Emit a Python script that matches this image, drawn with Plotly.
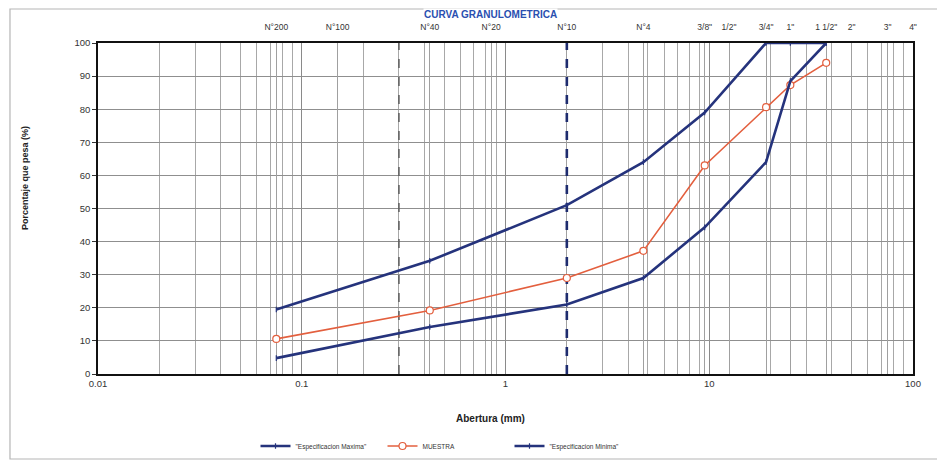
import plotly.graph_objects as go

# ---------------- data ----------------
sieve_labels = ['N°200', 'N°100', 'N°40', 'N°20', 'N°10', 'N°4', '3/8"', '1/2"',
                '3/4"', '1"', '1 1/2"', '2"', '3"', '4"']
sieve_mm = [0.075, 0.15, 0.425, 0.85, 2.0, 4.75, 9.5, 12.5, 19.0, 25.0, 37.5, 50.0, 75.0, 100.0]

abertura = [0.075, 0.425, 2.0, 4.75, 9.5, 19.0, 25.0, 37.5]
esp_max = [19.5, 34.2, 51.0, 64.0, 79.0, 100.0, 100.0, 100.0]
muestra = [10.6, 19.2, 29.0, 37.2, 63.0, 80.6, 87.3, 94.0]
esp_min = [4.8, 14.2, 21.0, 29.0, 44.3, 64.0, 88.5, 100.0]

x_tick_vals = [0.01, 0.1, 1, 10, 100]
x_tick_text = ['0.01', '0.1', '1', '10', '100']
y_tick_vals = [0, 10, 20, 30, 40, 50, 60, 70, 80, 90, 100]
minor_vals = [m * 10 ** e for e in range(-2, 2) for m in range(2, 10)]
ref_dash_gray = 0.3
ref_dash_blue = 2.0

NAVY = '#25337c'
ORANGE = '#e35f3e'

fig = go.Figure()

# reference dashed lines
fig.add_trace(go.Scatter(x=[ref_dash_gray, ref_dash_gray], y=[0, 100], mode='lines',
                         line=dict(color='#555555', width=1.4, dash='dash'),
                         showlegend=False, hoverinfo='skip'))
fig.add_trace(go.Scatter(x=[ref_dash_blue, ref_dash_blue], y=[0, 100], mode='lines',
                         line=dict(color='#1e2c6e', width=2.6, dash='dash'),
                         showlegend=False, hoverinfo='skip'))

fig.add_trace(go.Scatter(
    x=abertura, y=esp_max, name='"Especificacion Maxima"', mode='lines+markers',
    line=dict(color=NAVY, width=2.6),
    marker=dict(symbol='line-ns-open', size=4, line=dict(color='#e0303a', width=1.2))))
fig.add_trace(go.Scatter(
    x=abertura, y=muestra, name='MUESTRA', mode='lines+markers',
    line=dict(color=ORANGE, width=1.6),
    marker=dict(symbol='circle', size=7, color='white', line=dict(color=ORANGE, width=1.2))))
fig.add_trace(go.Scatter(
    x=abertura, y=esp_min, name='"Especificacion Minima"', mode='lines+markers',
    line=dict(color=NAVY, width=2.6),
    marker=dict(symbol='line-ns-open', size=4, line=dict(color='#e0303a', width=1.2))))

# overlay axis for sieve labels on top
fig.add_trace(go.Scatter(x=[sieve_mm[0]], y=[None], xaxis='x2', showlegend=False,
                         hoverinfo='skip'))

# the page body adds an 8px offset; margins compensate so the plot area sits
# at the same screen position as in the reference
fig.update_layout(
    width=945, height=463,
    margin=dict(l=90, r=40, t=35, b=97, autoexpand=False),
    paper_bgcolor='white', plot_bgcolor='white',
    font=dict(family='Liberation Sans, Arial, sans-serif', color='#333333'),
    xaxis=dict(type='log', range=[-2, 2], tickmode='array', tickvals=x_tick_vals,
               ticktext=x_tick_text, tickfont=dict(size=9.5), automargin=False,
               showgrid=True, gridcolor='#8a8a8a', gridwidth=1,
               minor=dict(tickmode='array', tickvals=minor_vals, showgrid=True,
                          gridcolor='#a8a8a8', gridwidth=1, ticks=''),
               showline=True, linecolor='#111111', linewidth=1.6, mirror=True,
               ticks='', zeroline=False),
    xaxis2=dict(type='log', range=[-2, 2], overlaying='x', side='top', anchor='y',
                tickmode='array', tickvals=sieve_mm, ticktext=sieve_labels,
                tickfont=dict(size=8.5, color='#333333'), ticks='', automargin=False,
                ticklabelstandoff=10,
                showgrid=True, gridcolor='#a0a0a0', gridwidth=1, showline=False,
                zeroline=False),
    yaxis=dict(range=[0, 100], tickmode='array', tickvals=y_tick_vals, automargin=False,
               tickfont=dict(size=9.5), showgrid=True, gridcolor='#8f8f8f', gridwidth=1,
               showline=True, linecolor='#111111', linewidth=1.6, mirror=True,
               ticks='outside', ticklen=4, tickcolor='#333333', zeroline=False),
    legend=dict(orientation='h', x=0.427, y=-0.2175, xanchor='center', yanchor='middle',
                font=dict(size=6.5, color='#333333'), itemwidth=30,
                entrywidth=82, entrywidthmode='pixels',
                bgcolor='rgba(0,0,0,0)'),
    showlegend=True,
)

fig.add_annotation(text='<b>Abertura (mm)</b>', xref='paper', yref='paper',
                   x=0.481, y=-0.133, showarrow=False, xanchor='center', yanchor='middle',
                   font=dict(size=10, color='#222222'))
fig.add_annotation(text='<b>Porcentaje que pesa (%)</b>', xref='paper', yref='paper',
                   x=-0.0896, y=0.592, showarrow=False, textangle=-90,
                   xanchor='center', yanchor='middle', font=dict(size=9, color='#222222'))
fig.add_annotation(text='<b>CURVA GRANULOMETRICA</b>', xref='paper', yref='paper',
                   x=0.482, y=1.1057, showarrow=False, xanchor='center', yanchor='top',
                   bgcolor='white', borderpad=0,
                   font=dict(size=10, color='#2a4fb0'))

# outer frame of the scanned sheet
fig.add_shape(type='rect', xref='paper', yref='paper', x0=-0.108, x1=1.0368,
              y0=-0.2568, y1=1.1027, line=dict(color='#b5b5b5', width=1.2), layer='below')

fig.write_html('out.html')
